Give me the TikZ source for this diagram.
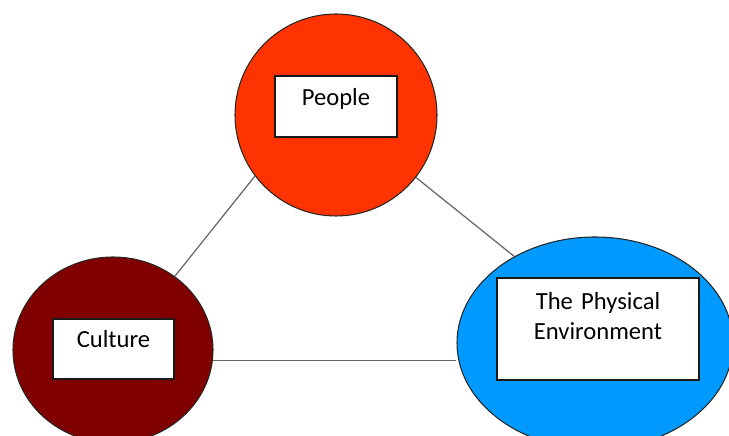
\documentclass[tikz,border=0pt]{standalone}
\usepackage{fontspec}
\setmainfont{Carlito}
\usetikzlibrary{shapes.geometric}
\definecolor{peoplered}{HTML}{FF3300}
\definecolor{culturered}{HTML}{800000}
\definecolor{envblue}{HTML}{0099FF}
\definecolor{linkgray}{HTML}{666666}

\begin{document}
\begin{tikzpicture}[
    blob/.style={draw=black!85, line width=.6pt, ellipse, inner sep=0pt},
    txtbox/.style={draw=black!90, line width=.9pt, fill=white, rectangle,
      inner sep=0pt, align=center, font=\fontsize{14}{17}\selectfont},
    link/.style={draw=linkgray, line width=.7pt}]
  \useasboundingbox (0,0) rectangle (14.58,8.72);

  % People
  \node (people) at (6.72,6.42) [blob, fill=peoplered,
    minimum width=4.04cm, minimum height=4.04cm] {};
  \node (peoplebox) at (6.72,6.59) [txtbox, text width=2.44cm,
    text height=.6cm, text depth=.62cm] {People};

  % Culture
  \node (culture) at (2.26,1.72) [blob, fill=culturered,
    minimum width=4cm, minimum height=3.72cm] {};
  \node (culturebox) at (2.27,1.74) [txtbox, text width=2.42cm,
    text height=.58cm, text depth=.62cm] {Culture};

  % The Physical Environment
  \node (env) at (11.9,1.86) [blob, fill=envblue,
    minimum width=5.52cm, minimum height=4.24cm] {};
  \node (envbox) at (11.96,2.14) [txtbox, text width=4.04cm,
    text height=.64cm, text depth=1.4cm] {The Physical\\Environment};

  \draw[link] (people.217) -- (culture.50);
  \draw[link] (people.322) -- (env.133);
  \draw[link] (culture.354) -- (culture.354 -| env.west);
\end{tikzpicture}
\end{document}
